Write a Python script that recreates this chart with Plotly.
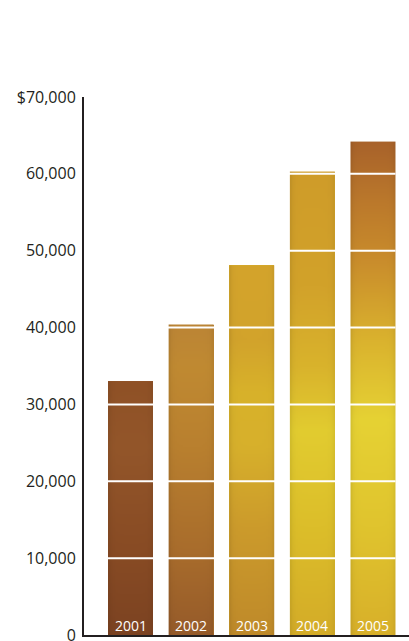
import base64
import struct
import zlib

import numpy as np
import plotly.graph_objects as go

# Annual figures
years = [2001, 2002, 2003, 2004, 2005]
revenue = [33000, 40400, 48100, 60300, 64200]
year_labels = ["2001", "2002", "2003", "2004", "2005"]

# Value axis
tick_values = [0, 10000, 20000, 30000, 40000, 50000, 60000, 70000]
tick_labels = ["0", "10,000", "20,000", "30,000", "40,000", "50,000", "60,000", "$70,000"]
AXIS_MAX = 70000

BAR_WIDTH = 0.742
FONT = "Open Sans"
INK = "#231f20"

# Fill colour stops for each bar: (fraction of the axis height, colour)
bar_stops = [
    [(0.00, "#7c4322"), (0.15, "#884b24"), (0.35, "#93562a"), (0.48, "#8f5126")],
    [(0.00, "#965b2a"), (0.15, "#a86c2c"), (0.35, "#b9802f"), (0.50, "#c08a32"), (0.59, "#bb8436")],
    [(0.00, "#bf8a2a"), (0.20, "#cc9b2c"), (0.35, "#d7b02c"), (0.45, "#d8b22a"),
     (0.55, "#d2a32c"), (0.69, "#d4a42c")],
    [(0.00, "#d4ac28"), (0.20, "#dcbe2a"), (0.38, "#e2cc30"), (0.50, "#d9b32c"),
     (0.65, "#d2a22a"), (0.87, "#cf9c2a")],
    [(0.00, "#d8b02a"), (0.20, "#e0c42e"), (0.40, "#e6d234"), (0.55, "#dab22e"),
     (0.70, "#c98c2c"), (0.80, "#bc7a2c"), (0.92, "#a8622a")],
]


def hex_rgb(h):
    h = h.lstrip("#")
    return [int(h[i:i + 2], 16) for i in (0, 2, 4)]


def png_chunk(tag, data):
    return (struct.pack(">I", len(data)) + tag + data
            + struct.pack(">I", zlib.crc32(tag + data) & 0xFFFFFFFF))


def gradient_png(stops, top_frac, width=24):
    """Vertical colour gradient image for a bar reaching top_frac of the axis."""
    height = max(8, int(round(500 * top_frac)))
    v = np.linspace(top_frac, 0.0, height)
    fr = np.array([s[0] for s in stops])
    cols = np.array([hex_rgb(c) for _, c in stops], dtype=float)
    rgb = np.stack([np.interp(v, fr, cols[:, k]) for k in range(3)], axis=1)
    img = np.repeat(rgb[:, None, :], width, axis=1)
    # slightly darker edges on each side of the bar
    u = np.linspace(0.0, 1.0, width)
    shade = 1 - 0.07 * np.exp(-u / 0.05) - 0.05 * np.exp(-(1 - u) / 0.05)
    img = np.clip(img * shade[None, :, None], 0, 255).astype(np.uint8)
    raw = b"".join(b"\x00" + row.tobytes() for row in img)
    png = (b"\x89PNG\r\n\x1a\n"
           + png_chunk(b"IHDR", struct.pack(">IIBBBBB", width, height, 8, 2, 0, 0, 0))
           + png_chunk(b"IDAT", zlib.compress(raw, 9))
           + png_chunk(b"IEND", b""))
    return "data:image/png;base64," + base64.b64encode(png).decode()


base_colors = [stops[len(stops) // 2][1] for stops in bar_stops]

fig = go.Figure()
fig.add_trace(go.Bar(
    x=years,
    y=revenue,
    width=BAR_WIDTH,
    marker=dict(color=base_colors, line=dict(width=0)),
    hovertemplate="%{x}: $%{y:,}<extra></extra>",
    showlegend=False,
))

# textured gradient fill laid over each bar
images = []
for yr, val, stops in zip(years, revenue, bar_stops):
    images.append(dict(
        source=gradient_png(stops, val / AXIS_MAX),
        xref="x", yref="y",
        x=yr - BAR_WIDTH / 2, y=val,
        sizex=BAR_WIDTH, sizey=val,
        xanchor="left", yanchor="top",
        sizing="stretch", layer="above",
    ))

# white rules cutting across the bars at each gridline
shapes = []
for tv in tick_values[1:-1]:
    shapes.append(dict(
        type="line", xref="x", yref="y",
        x0=years[0] - BAR_WIDTH / 2, x1=years[-1] + BAR_WIDTH / 2,
        y0=tv, y1=tv,
        line=dict(color="white", width=2), layer="above",
    ))

# year labels at the foot of each bar
annotations = []
for yr, lab in zip(years, year_labels):
    annotations.append(dict(
        x=yr, y=0, xref="x", yref="y",
        text=lab, showarrow=False,
        yanchor="bottom", yshift=-2,
        font=dict(family=FONT, size=14, color="white"),
    ))

fig.update_layout(
    width=409, height=641,
    margin=dict(l=84, r=0, t=97, b=6, autoexpand=False),
    paper_bgcolor="white",
    plot_bgcolor="white",
    bargap=0,
    images=images,
    shapes=shapes,
    annotations=annotations,
    xaxis=dict(
        range=[2000.233, 2005.594],
        showgrid=False, zeroline=False,
        showticklabels=False, ticks="",
        showline=True, linecolor=INK, linewidth=2,
        automargin=False,
        fixedrange=True,
    ),
    yaxis=dict(
        range=[0, AXIS_MAX],
        tickvals=tick_values, ticktext=tick_labels,
        showgrid=False, zeroline=False,
        ticks="", ticklabelstandoff=3,
        ticklabeloverflow="allow",
        showline=True, linecolor=INK, linewidth=2,
        tickfont=dict(family=FONT, size=16, color=INK),
        automargin=False,
        fixedrange=True,
    ),
)

fig.write_html("out.html")
